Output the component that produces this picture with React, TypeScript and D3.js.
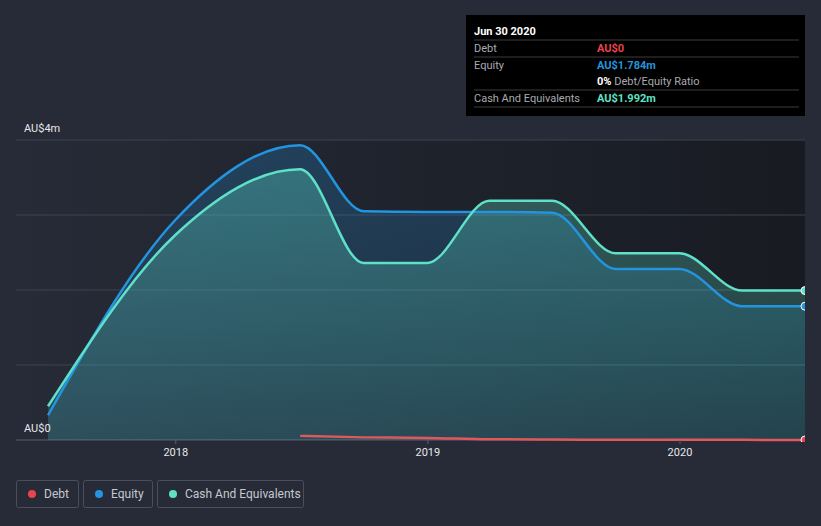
import React, { useEffect } from 'react';
import * as d3 from 'd3';

// quarter-end dates (semi-annual at the start)
const dates = [
  '2017-06-30', '2017-12-31', '2018-06-30', '2018-09-30', '2018-12-31',
  '2019-03-31', '2019-06-30', '2019-09-30', '2019-12-31', '2020-03-31', '2020-06-30',
];
const equity = [0.33, 2.93, 3.93, 3.05, 3.04, 3.04, 3.03, 2.28, 2.28, 1.784, 1.784];
const cash = [0.45, 2.73, 3.61, 2.36, 2.36, 3.19, 3.19, 2.49, 2.49, 1.992, 1.992];
const debtDates = dates.slice(2);
const debt = [0.055, 0.035, 0.028, 0.01, 0.006, 0.004, 0.003, 0.002, 0];

const yTicks = [0, 1, 2, 3, 4];
const xTicks = ['2018-01-01', '2019-01-01', '2020-01-01'];

const tipRows = [
  { label: 'Debt', value: 'AU$0', color: '#e8454a' },
  { label: 'Equity', value: 'AU$1.784m', color: '#2394df' },
  { label: '', value: '0%', extra: ' Debt/Equity Ratio', color: '#ffffff' },
  { label: 'Cash And Equivalents', value: 'AU$1.992m', color: '#5fe0c8' },
];

const legendItems = [
  { name: 'Debt', color: '#e8454a' },
  { name: 'Equity', color: '#2394df' },
  { name: 'Cash And Equivalents', color: '#5fe0c8' },
];

const W = 821;
const H = 526;
const left = 16;
const right = 805;
const top = 140;
const bottom = 440;

type Pt = { d: Date; v: number };

export default function App() {
  useEffect(() => {
    document.body.style.margin = '0';
    document.body.style.background = '#262b37';
  }, []);

  const parse = d3.timeParse('%Y-%m-%d');
  const x = d3.scaleTime()
    .domain([parse(dates[0])!, parse(dates[dates.length - 1])!])
    .range([48, right]);
  const y = d3.scaleLinear().domain([0, 4]).range([bottom, top]);

  const eq: Pt[] = dates.map((s, i) => ({ d: parse(s)!, v: equity[i] }));
  const ca: Pt[] = dates.map((s, i) => ({ d: parse(s)!, v: cash[i] }));
  const de: Pt[] = debtDates.map((s, i) => ({ d: parse(s)!, v: debt[i] }));

  const line = d3.line<Pt>().curve(d3.curveMonotoneX).x(p => x(p.d)).y(p => y(p.v));
  const area = d3.area<Pt>().curve(d3.curveMonotoneX).x(p => x(p.d)).y0(y(0)).y1(p => y(p.v));

  const font = 'Roboto, "Open Sans", sans-serif';
  const last = (arr: Pt[]) => arr[arr.length - 1];

  // legend layout
  const legendWidths = [62, 69, 146];
  let lx = 16;
  const legendPos = legendWidths.map(w => { const p = lx; lx += w + 5; return p; });

  return (
    <svg width={W} height={H} style={{ display: 'block', background: '#262b37', fontFamily: font }}>
      <defs>
        <linearGradient id="plotBg" x1="0" y1="0" x2="1" y2="0">
          <stop offset="0%" stopColor="#262b37" />
          <stop offset="100%" stopColor="#181b22" />
        </linearGradient>
        <linearGradient id="eqFill" x1="0" y1="0" x2="0" y2="1">
          <stop offset="0%" stopColor="#2394df" stopOpacity="0.24" />
          <stop offset="100%" stopColor="#2394df" stopOpacity="0.12" />
        </linearGradient>
        <linearGradient id="caFill" x1="0" y1="0" x2="0" y2="1">
          <stop offset="0%" stopColor="#5fe0c8" stopOpacity="0.32" />
          <stop offset="100%" stopColor="#5fe0c8" stopOpacity="0.14" />
        </linearGradient>
        <clipPath id="plotClip">
          <rect x={left} y={top - 10} width={right - left} height={bottom - top + 12} />
        </clipPath>
      </defs>

      <rect x={left} y={top} width={right - left} height={bottom - top} fill="url(#plotBg)" />

      {yTicks.map(t => (
        <line key={t} x1={left} x2={right} y1={y(t)} y2={y(t)}
          stroke={t === 0 ? '#5a5f6b' : '#3d424e'} strokeWidth={1} />
      ))}

      <g clipPath="url(#plotClip)">
        <path d={area(eq) || ''} fill="url(#eqFill)" />
        <path d={area(ca) || ''} fill="url(#caFill)" />
        <path d={line(de) || ''} fill="none" stroke="#e0575c" strokeWidth={2.5} />
        <path d={line(eq) || ''} fill="none" stroke="#2394df" strokeWidth={2.5} />
        <path d={line(ca) || ''} fill="none" stroke="#5fe0c8" strokeWidth={2.5} />
        <circle cx={x(last(ca).d)} cy={y(last(ca).v)} r={4} fill="#5fe0c8" stroke="#ffffff" strokeWidth={1} />
        <circle cx={x(last(eq).d)} cy={y(last(eq).v)} r={4} fill="#2394df" stroke="#ffffff" strokeWidth={1} />
        <circle cx={x(last(de).d)} cy={y(last(de).v)} r={4} fill="#e8454a" stroke="#ffffff" strokeWidth={1} />
      </g>

      <text x={24} y={y(4) - 8} fill="#e6e8ec" fontSize={11}>AU$4m</text>
      <text x={24} y={y(0) - 8} fill="#e6e8ec" fontSize={11}>AU$0</text>

      {xTicks.map(s => {
        const px = x(parse(s)!);
        return (
          <g key={s}>
            <line x1={px} x2={px} y1={bottom} y2={bottom + 4} stroke="#5a5f6b" />
            <text x={px} y={bottom + 16} fill="#e6e8ec" fontSize={11} textAnchor="middle">
              {d3.timeFormat('%Y')(parse(s)!)}
            </text>
          </g>
        );
      })}

      {/* tooltip */}
      <g>
        <rect x={466} y={15} width={339} height={101} fill="#000000" />
        <text x={474} y={35} fill="#ffffff" fontSize={11} fontWeight="bold">Jun 30 2020</text>
        {[40, 57, 90, 107].map(ly => (
          <line key={ly} x1={474} x2={799} y1={ly} y2={ly} stroke="#3c3c3c" />
        ))}
        {tipRows.map((r, i) => {
          const ty = [52, 69, 85, 102][i];
          return (
            <g key={i}>
              {r.label && <text x={474} y={ty} fill="#a8abb1" fontSize={11}>{r.label}</text>}
              <text x={597} y={ty} fontSize={11}>
                <tspan fill={r.color} fontWeight="bold">{r.value}</tspan>
                {r.extra && <tspan fill="#a8abb1">{r.extra}</tspan>}
              </text>
            </g>
          );
        })}
      </g>

      {/* legend */}
      {legendItems.map((it, i) => (
        <g key={it.name} transform={`translate(${legendPos[i]},480)`}>
          <rect x={0.5} y={0.5} width={legendWidths[i]} height={27} rx={2} fill="none" stroke="#4a4f5b" />
          <circle cx={16} cy={14} r={4} fill={it.color} />
          <text x={28} y={18} fill="#c5c8ce" fontSize={12}>{it.name}</text>
        </g>
      ))}
    </svg>
  );
}
